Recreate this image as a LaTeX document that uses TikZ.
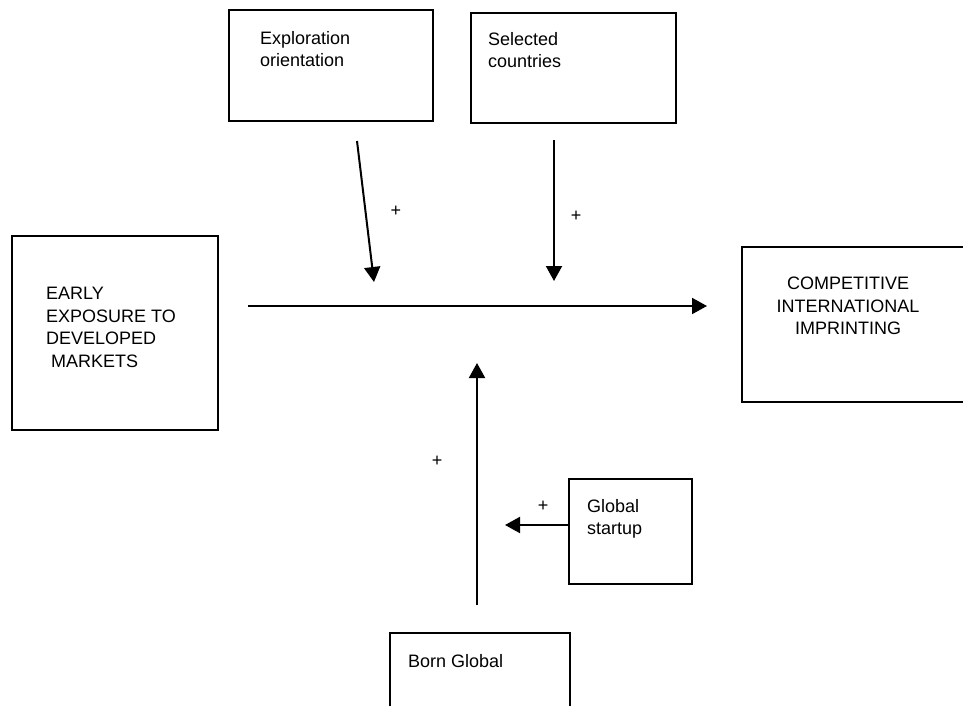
\documentclass[tikz,border=0pt]{standalone}
\usepackage{fontspec}
\setmainfont{Liberation Sans}
\usetikzlibrary{arrows.meta}

\begin{document}
\begin{tikzpicture}[x=1pt,y=-1pt,
    box/.style={draw,line width=1.8pt,inner sep=0pt},
    lbl/.style={inner sep=0pt,anchor=north west,align=left,font=\fontsize{18}{22.5}\selectfont},
    plus/.style={inner sep=0pt,font=\fontsize{18}{22.5}\selectfont},
    arr/.style={line width=2pt,-{Triangle[length=15pt,width=16pt]}}]

    \clip (0,0) rectangle (963,706); % page

    % boxes
    \node[box,minimum width=204pt,minimum height=111pt] (explo) at (331,65.5) {};
    \node[box,minimum width=205pt,minimum height=110pt] (selc) at (573.5,68) {};
    \node[box,minimum width=206pt,minimum height=194pt] (early) at (115,333) {};
    \node[box,minimum width=248pt,minimum height=155pt] (comp) at (866,324.5) {}; % runs off the right
    \node[box,minimum width=123pt,minimum height=105pt] (gstart) at (630.5,531.5) {};
    \node[box,minimum width=180pt,minimum height=114pt] (born) at (480,690) {}; % runs off the bottom

    % texts
    \node[lbl] (explotxt) at (260,31) {Exploration\\orientation};
    \node[lbl] (selctxt) at (488,32) {Selected\\countries};
    \node[lbl] (earlytxt) at (46,287) {EARLY\\EXPOSURE TO\\DEVELOPED\\~MARKETS};
    \node[lbl,anchor=north,align=center] (comptxt) at (848,277) {COMPETITIVE\\INTERNATIONAL\\IMPRINTING};
    \node[lbl] (gstarttxt) at (587,499) {Global\\startup};
    \node[lbl] (borntxt) at (408,654) {Born Global};

    % arrow ends
    \coordinate (mainS) at (248,306);
    \coordinate (mainE) at (707,306);
    \coordinate (exploS) at (357,141);
    \coordinate (exploE) at (374,282);
    \coordinate (selcS) at (554,140);
    \coordinate (selcE) at (554,281);
    \coordinate (bornS) at (477,605);
    \coordinate (bornE) at (477,363);
    \coordinate (gstartS) at (569,525);
    \coordinate (gstartE) at (505,525);

    \draw[arr] (mainS) -- (mainE);
    \draw[arr] (exploS) -- (exploE);
    \draw[arr] (selcS) -- (selcE);
    \draw[arr] (bornS) -- (bornE);
    \draw[arr] (gstartS) -- (gstartE);

    % signs
    \node[plus] (p1) at (396,211) {+};
    \node[plus] (p2) at (576,216) {+};
    \node[plus] (p3) at (437,461) {+};
    \node[plus] (p4) at (543,506) {+};

\end{tikzpicture}
\end{document}
